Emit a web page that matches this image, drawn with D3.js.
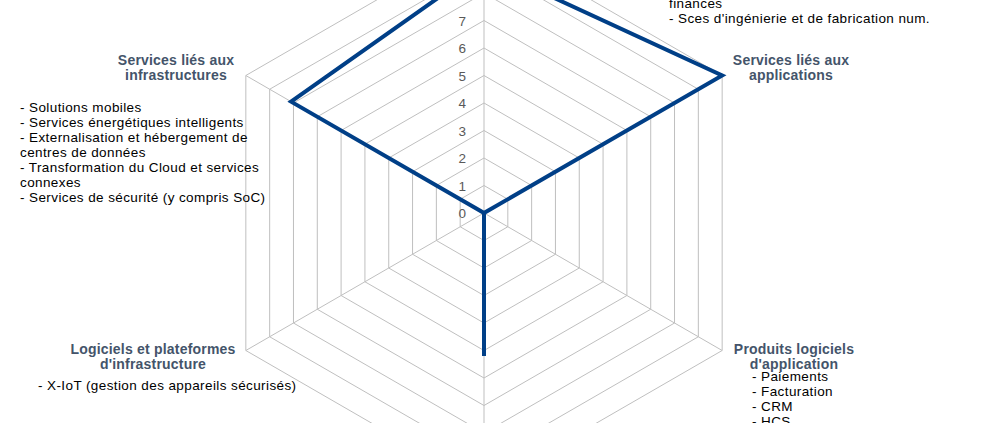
<!DOCTYPE html>
<html><head><meta charset="utf-8">
<script src="https://cdn.jsdelivr.net/npm/d3@7"></script>
<style>body{margin:0;background:#fff}</style>
</head><body><div id="chart"></div>
<script>
var axes = ["top", "Services liés aux applications", "Produits logiciels d'application", "bottom", "Logiciels et plateformes d'infrastructure", "Services liés aux infrastructures"];
var values = [9, 10, 0, 5.2, 0, 8.1];
var ticks = [0, 1, 2, 3, 4, 5, 6, 7, 8, 9, 10];

var width = 990, height = 423, cx = 484, cy = 213;
var svg = d3.select('#chart').append('svg').attr('width', width).attr('height', height)
  .style('font-family', 'Liberation Sans, Arial, sans-serif');

var r = d3.scaleLinear().domain([0, 10]).range([0, 275]);
function pt(i, v) {
  var a = -Math.PI / 2 + i * Math.PI / 3;
  return [cx + r(v) * Math.cos(a), cy + r(v) * Math.sin(a)];
}
var line = d3.line();

var g = svg.append('g');
ticks.slice(1).forEach(function (t) {
  g.append('path').attr('d', line(axes.map(function (a, i) { return pt(i, t); })) + 'Z')
    .attr('fill', 'none').attr('stroke', '#bfbfbf').attr('stroke-width', 1);
});
axes.forEach(function (a, i) {
  var p = pt(i, 10);
  g.append('line').attr('x1', cx).attr('y1', cy).attr('x2', p[0]).attr('y2', p[1])
    .attr('stroke', '#bfbfbf');
});
// only labels that fall inside the visible window
ticks.filter(function (t) { return cy - r(t) > 10; }).forEach(function (t) {
  g.append('text').attr('x', cx - 18).attr('y', cy - r(t) + 5).attr('text-anchor', 'end')
    .attr('font-size', 13.5).attr('fill', '#595959').text(t);
});

g.append('path').attr('d', line(values.map(function (v, i) { return pt(i, v); })) + 'Z')
  .attr('fill', 'none').attr('stroke', '#003f87').attr('stroke-width', 4).attr('stroke-linejoin', 'miter');

function block(x, y, anchor, lines, bold) {
  var t = svg.append('text').attr('x', x).attr('y', y).attr('text-anchor', anchor)
    .attr('font-size', bold ? 14 : 13.5).attr('fill', bold ? '#44546a' : '#000')
    .attr('font-weight', bold ? 'bold' : 'normal')
    .attr('letter-spacing', bold ? 0.2 : 0.4);
  lines.forEach(function (l, i) { t.append('tspan').attr('x', x).attr('dy', i ? 15 : 0).text(l); });
}
block(669, 8, 'start', ['finances', "- Sces d'ingénierie et de fabrication num."], false);
block(791, 65, 'middle', ['Services liés aux', 'applications'], true);
block(176, 65, 'middle', ['Services liés aux', 'infrastructures'], true);
block(20, 112, 'start', ['- Solutions mobiles', '- Services énergétiques intelligents', '- Externalisation et hébergement de', 'centres de données', '- Transformation du Cloud et services', 'connexes', '- Services de sécurité (y compris SoC)'], false);
block(153, 354, 'middle', ['Logiciels et plateformes', "d'infrastructure"], true);
block(38, 390, 'start', ['- X-IoT (gestion des appareils sécurisés)'], false);
block(794, 354, 'middle', ['Produits logiciels', "d'application"], true);
block(752, 381, 'start', ['- Paiements', '- Facturation', '- CRM', '- HCS'], false);
</script></body></html>
